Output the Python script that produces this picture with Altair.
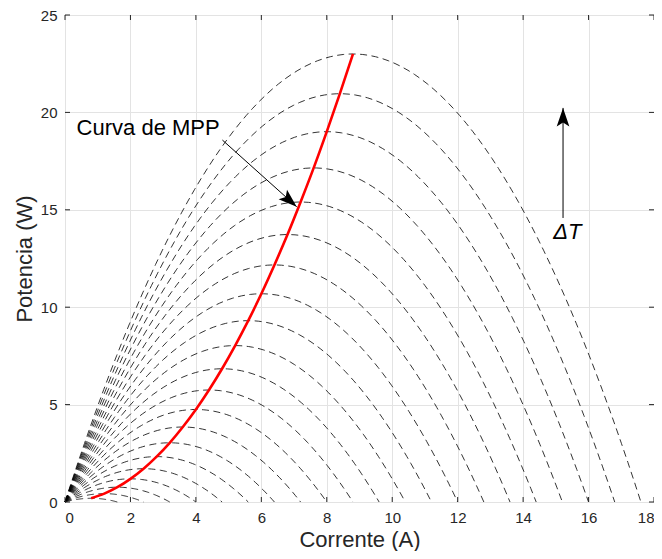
import altair as alt
import pandas as pd
import numpy as np

# Peak (maximum power point) of each dashed curve
peak_current = [0.8, 1.2, 1.6, 2.0, 2.4, 2.8, 3.2, 3.6, 4.0, 4.4, 4.8,
                5.2, 5.6, 6.0, 6.4, 6.8, 7.2, 7.6, 8.0, 8.4, 8.8]
peak_power = [0.19, 0.43, 0.76, 1.19, 1.71, 2.33, 3.04, 3.85, 4.75, 5.75, 6.84,
              8.03, 9.31, 10.69, 12.17, 13.73, 15.40, 17.15, 19.01, 20.96, 23.0]

x_ticks = [0, 2, 4, 6, 8, 10, 12, 14, 16, 18]
y_ticks = [0, 5, 10, 15, 20, 25]

# annotations
mpp_label = "Curva de MPP"
mpp_label_pos = (0.355, 18.84)
mpp_arrow = (4.81, 18.58, 7.08, 15.16)
dt_label = "ΔT"
dt_label_pos = (15.35, 13.86)
dt_arrow = (15.22, 14.58, 15.22, 20.23)

W, H = 589, 487
FONT = "Liberation Sans"
INK = "#262626"

# each P-I curve is a parabola through 0, its peak, and 2*peak current
rows = []
for k, (ip, pp) in enumerate(zip(peak_current, peak_power)):
    for i in np.linspace(0, 2 * ip, 90):
        rows.append({"curve": k, "I": i, "P": pp * (1 - ((i - ip) / ip) ** 2)})
curves = pd.DataFrame(rows)
mpp = pd.DataFrame({"I": peak_current, "P": peak_power})

xs = alt.Scale(domain=[0, 18], nice=False, zero=False)
ys = alt.Scale(domain=[0, 25], nice=False, zero=False)
XT = "Corrente (A)"
YT = "Potencia (W)"
xax = alt.Axis(values=x_ticks, grid=True, ticks=False, domain=False, labelPadding=8,
               labelFlush=True, labelFlushOffset=0,
               titleBaseline="alphabetic", titleY=44)
yax = alt.Axis(values=y_ticks, grid=True, ticks=False, domain=False, labelPadding=8,
               labelFlush=False, titlePadding=4)

dashed = alt.Chart(curves).mark_line(color="black", strokeWidth=0.8,
                                      strokeDash=[7, 4.5]).encode(
    x=alt.X("I:Q", scale=xs, axis=xax, title=XT),
    y=alt.Y("P:Q", scale=ys, axis=yax, title=YT),
    detail="curve:N",
)

red = alt.Chart(mpp).mark_line(color="#ff0000", strokeWidth=2.6,
                               interpolate="monotone").encode(
    x=alt.X("I:Q", scale=xs, title=XT),
    y=alt.Y("P:Q", scale=ys, title=YT),
)

arrows = pd.DataFrame({
    "I": [mpp_arrow[0], dt_arrow[0]], "P": [mpp_arrow[1], dt_arrow[1]],
    "I2": [mpp_arrow[2], dt_arrow[2]], "P2": [mpp_arrow[3], dt_arrow[3]],
    "ang": [131.6, 0.0],
})
shafts = alt.Chart(arrows).mark_rule(color="black", strokeWidth=1).encode(
    x=alt.X("I:Q", scale=xs, title=XT), y=alt.Y("P:Q", scale=ys, title=YT),
    x2="I2:Q", y2="P2:Q",
)
heads = alt.Chart(arrows).mark_point(
    shape="M0,0L0.65,1.9L0,1.5L-0.65,1.9Z", filled=True, color="black",
    opacity=1, size=380, strokeWidth=0,
).encode(
    x=alt.X("I2:Q", scale=xs, title=XT), y=alt.Y("P2:Q", scale=ys, title=YT),
    angle=alt.Angle("ang:Q", scale=None),
)

texts = pd.DataFrame({"I": [mpp_label_pos[0]], "P": [mpp_label_pos[1]], "t": [mpp_label]})
mpp_text = alt.Chart(texts).mark_text(align="left", baseline="alphabetic", font=FONT,
                                      fontSize=22, color="black").encode(
    x=alt.X("I:Q", scale=xs, title=XT), y=alt.Y("P:Q", scale=ys, title=YT), text="t:N")
dtexts = pd.DataFrame({"I": [dt_label_pos[0]], "P": [dt_label_pos[1]], "t": [dt_label]})
dt_text = alt.Chart(dtexts).mark_text(align="center", baseline="middle", font=FONT,
                                      fontSize=22, fontStyle="italic", color="black").encode(
    x=alt.X("I:Q", scale=xs, title=XT), y=alt.Y("P:Q", scale=ys, title=YT), text="t:N")

# inward ticks on all four sides
xt = pd.DataFrame({"v": x_ticks})
yt = pd.DataFrame({"v": y_ticks})
tick_b = alt.Chart(xt).mark_rule(color=INK, strokeWidth=1).encode(
    x=alt.X("v:Q", scale=xs, title=XT), y=alt.value(H), y2=alt.value(H - 5))
tick_t = alt.Chart(xt).mark_rule(color=INK, strokeWidth=1).encode(
    x=alt.X("v:Q", scale=xs, title=XT), y=alt.value(0), y2=alt.value(5))
tick_l = alt.Chart(yt).mark_rule(color=INK, strokeWidth=1).encode(
    y=alt.Y("v:Q", scale=ys, title=YT), x=alt.value(0), x2=alt.value(5))
tick_r = alt.Chart(yt).mark_rule(color=INK, strokeWidth=1).encode(
    y=alt.Y("v:Q", scale=ys, title=YT), x=alt.value(W), x2=alt.value(W - 5))

chart = alt.layer(dashed, red, shafts, heads, mpp_text, dt_text,
                  tick_b, tick_t, tick_l, tick_r).properties(
    width=W, height=H,
    autosize=alt.AutoSizeParams(type="none"),
    padding={"left": 57, "top": 7, "right": 0, "bottom": 49},
    background="white",
).configure_view(
    stroke=INK, strokeWidth=1,
).configure_axis(
    labelFont=FONT, labelFontSize=15, labelColor=INK,
    titleFont=FONT, titleFontSize=22, titleColor=INK, titleFontWeight="normal",
    gridColor="#e3e3e3", gridWidth=1,
)

chart.save("out.html", embed_options={"renderer": "svg", "actions": False})
